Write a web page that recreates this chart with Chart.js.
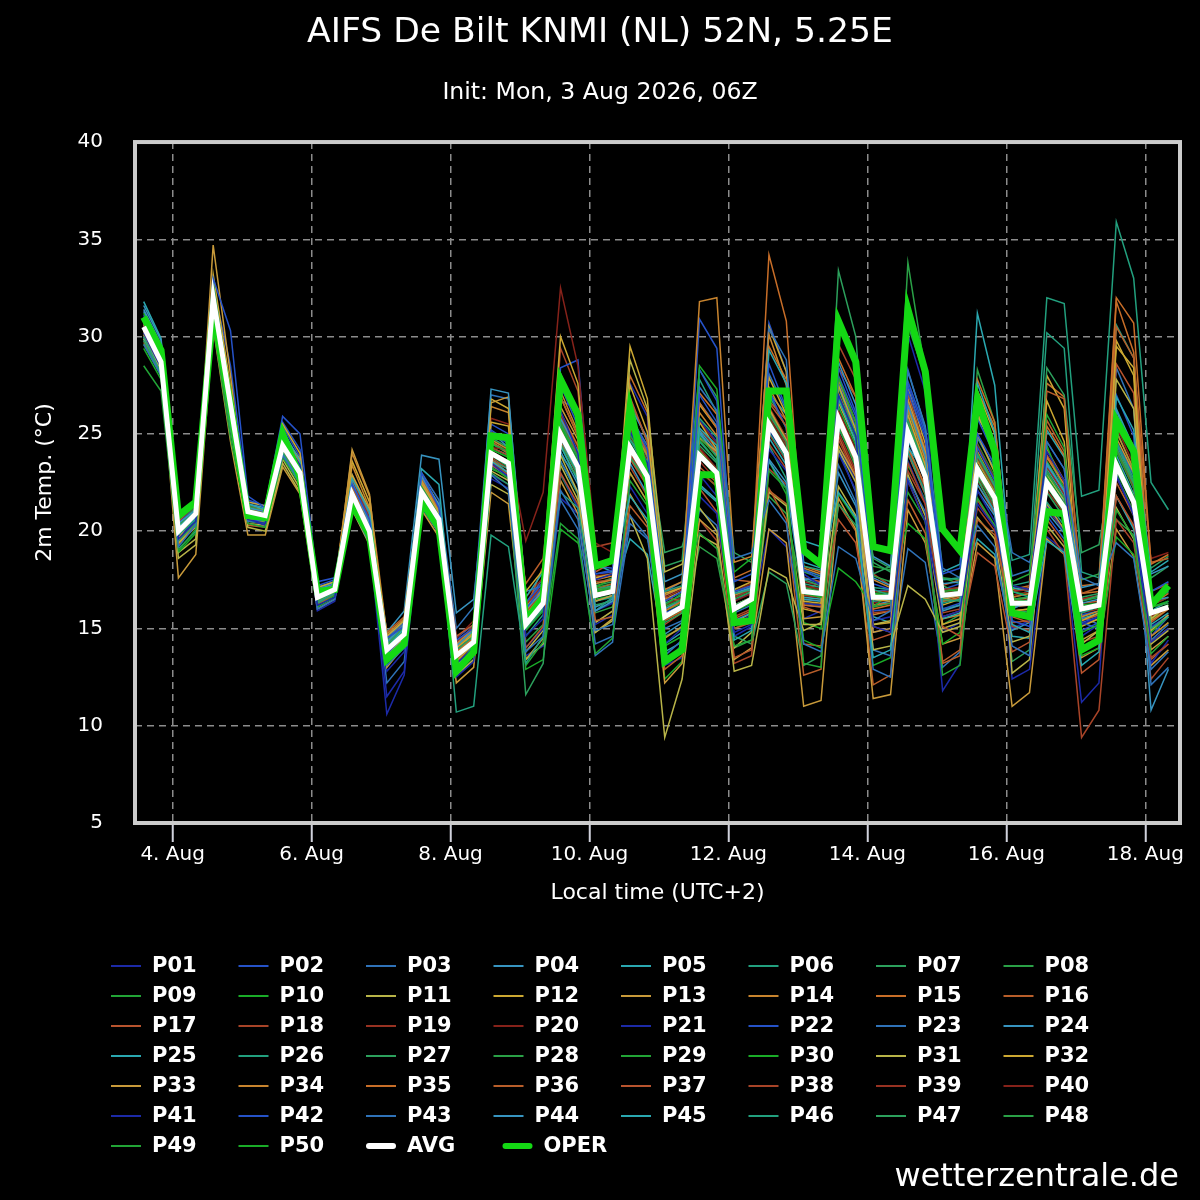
<!DOCTYPE html>
<html>
<head>
<meta charset="utf-8">
<title>AIFS De Bilt KNMI (NL) 52N, 5.25E</title>
<script src="https://cdn.jsdelivr.net/npm/chart.js@4.4.1/dist/chart.umd.min.js"></script>
<style>
  html, body { margin: 0; padding: 0; background: #000; }
  #wrap { width: 1200px; height: 1200px; }
</style>
</head>
<body>
<div id="wrap"><canvas id="myChart" width="1200" height="1200"></canvas></div>
<script>
// time of each step, hours after 4 Aug 00:00 local (UTC+2), 6-hourly
const hours = [-10, -4,
  2, 8, 14, 20, 26, 32, 38, 44, 50, 56, 62, 68, 74, 80, 86, 92, 98, 104,
  110, 116, 122, 128, 134, 140, 146, 152, 158, 164, 170, 176, 182, 188, 194, 200,
  206, 212, 218, 224, 230, 236, 242, 248, 254, 260, 266, 272, 278, 284, 290, 296,
  302, 308, 314, 320, 326, 332, 338, 344];

// x axis ticks
const tickHours = [0, 48, 96, 144, 192, 240, 288, 336];
const tickLabels = ["4. Aug", "6. Aug", "8. Aug", "10. Aug", "12. Aug", "14. Aug", "16. Aug", "18. Aug"];

//Ensemble mean and operational run
const AVG = [30.5, 28.7,
  20.0, 20.9, 32.0, 26.5, 21.0, 20.8, 24.4, 23.0, 16.6, 17.0, 21.9, 20.0,
  13.9, 14.7, 22.0, 20.6, 13.6, 14.3, 24.0, 23.5, 15.2, 16.3, 25.0, 23.3,
  16.7, 16.9, 24.3, 22.8, 15.6, 16.1, 23.9, 23.0, 16.0, 16.5, 25.5, 24.0,
  16.9, 16.8, 25.8, 23.8, 16.6, 16.6, 25.1, 22.8, 16.7, 16.8, 23.2, 21.7,
  16.3, 16.3, 22.5, 21.2, 16.0, 16.2, 23.4, 21.5, 15.8, 16.1];
const OPER = [31.0, 29.3,
  20.8, 21.5, 31.3, 26.5, 20.8, 20.7, 25.0, 22.8, 16.9, 17.0, 21.4, 19.8,
  13.4, 14.2, 21.5, 20.2, 12.8, 13.8, 24.9, 24.8, 15.4, 16.6, 27.8, 26.0,
  18.2, 18.5, 26.3, 22.5, 13.3, 13.9, 22.9, 22.9, 15.3, 15.4, 27.2, 27.2,
  19.0, 18.3, 30.8, 28.7, 19.2, 19.0, 31.4, 28.2, 20.1, 19.0, 26.8, 24.1,
  15.8, 15.6, 21.0, 20.9, 13.9, 14.4, 25.7, 24.1, 16.2, 17.2];

//Members, one row per day (02, 08, 14, 20 local)
const P01 = [30.2, 28.4,
  19.6, 20.5, 31.8, 26.8,
  20.6, 20.4, 24.8, 23.4,
  16.2, 16.6, 21.6, 19.8,
  11.5, 12.8, 21.5, 20.2,
  13.2, 14.0, 23.5, 22.8,
  14.6, 15.5, 26.2, 24.0,
  17.5, 17.8, 25.1, 23.5,
  14.2, 15.0, 21.8, 20.9,
  14.8, 15.2, 24.2, 23.1,
  17.8, 17.2, 27.0, 24.9,
  15.1, 14.8, 22.6, 20.5,
  15.6, 15.9, 21.4, 20.2,
  17.2, 17.0, 24.1, 22.6,
  15.2, 15.6, 22.8, 20.9,
  14.3, 15.0];
const P02 = [31.0, 29.5,
  20.8, 21.6, 33.0, 30.3,
  21.8, 21.2, 25.9, 25.0,
  17.4, 17.6, 22.4, 20.6,
  14.5, 15.1, 23.0, 21.2,
  14.4, 15.0, 25.2, 24.6,
  16.0, 17.2, 27.5, 25.4,
  17.8, 18.0, 26.0, 24.2,
  16.4, 16.9, 27.0, 25.6,
  17.4, 17.8, 28.6, 26.3,
  18.0, 17.5, 28.4, 26.1,
  17.3, 17.0, 27.2, 24.8,
  17.8, 18.1, 25.0, 23.4,
  15.4, 15.1, 20.8, 19.6,
  14.9, 15.3, 25.6, 23.8,
  16.9, 17.4];
const P03 = [29.6, 28.0,
  19.2, 20.3, 31.4, 25.6,
  20.5, 20.6, 23.9, 22.6,
  16.0, 16.5, 21.2, 19.4,
  13.1, 14.0, 21.3, 19.9,
  12.8, 13.6, 22.9, 22.1,
  13.8, 14.6, 22.1, 20.6,
  14.9, 15.2, 20.8, 19.7,
  13.6, 14.4, 27.4, 26.2,
  18.6, 18.9, 21.6, 20.4,
  14.2, 13.8, 19.2, 18.6,
  15.4, 15.9, 28.3, 25.3,
  18.1, 17.6, 20.3, 19.2,
  14.1, 13.6, 24.6, 23.2,
  17.6, 17.2, 19.4, 18.6,
  12.9, 13.8];
const P04 = [31.6, 29.8,
  20.4, 21.1, 32.3, 27.0,
  21.2, 21.0, 24.7, 23.3,
  17.0, 17.3, 22.5, 20.4,
  14.3, 15.2, 22.8, 21.3,
  14.1, 14.9, 27.3, 27.1,
  16.0, 16.9, 25.8, 24.1,
  15.9, 16.4, 23.5, 21.9,
  14.7, 15.3, 22.4, 21.6,
  15.4, 15.8, 23.7, 22.5,
  17.5, 17.6, 28.7, 26.5,
  17.6, 17.2, 26.5, 23.9,
  15.9, 16.2, 22.4, 21.0,
  16.0, 16.4, 23.4, 22.1,
  17.1, 17.3, 26.2, 24.0,
  16.4, 16.6];
const P05 = [31.8, 29.9,
  20.2, 21.0, 32.5, 26.3,
  21.4, 21.1, 25.2, 23.6,
  16.9, 17.2, 22.7, 21.0,
  14.0, 15.0, 23.2, 22.4,
  13.0, 14.1, 23.6, 23.0,
  16.6, 17.9, 28.1, 25.7,
  18.3, 17.9, 21.8, 20.6,
  14.2, 14.8, 25.3, 24.4,
  14.4, 14.9, 29.3, 27.6,
  18.4, 18.1, 22.0, 20.7,
  13.5, 13.9, 24.3, 23.1,
  17.9, 18.3, 27.6, 25.1,
  15.2, 14.8, 19.5, 18.9,
  13.1, 13.8, 26.9, 25.2,
  17.9, 18.5];
const P06 = [30.0, 28.1,
  19.8, 20.6, 31.6, 25.8,
  20.9, 20.7, 24.0, 22.4,
  16.3, 16.8, 21.4, 19.6,
  13.6, 14.4, 21.7, 20.3,
  10.7, 11.0, 19.8, 19.2,
  13.2, 14.6, 22.0, 21.2,
  15.9, 16.6, 24.7, 23.6,
  16.9, 17.2, 25.8, 24.8,
  16.8, 17.0, 24.4, 22.7,
  18.2, 18.0, 26.9, 25.0,
  17.0, 16.7, 24.1, 22.0,
  16.3, 16.5, 23.9, 22.3,
  16.9, 16.6, 21.5, 20.3,
  15.8, 16.1, 24.6, 22.7,
  15.0, 15.6];
const P07 = [29.8, 28.0,
  19.5, 20.4, 31.3, 25.2,
  20.7, 20.5, 24.1, 22.6,
  16.4, 16.9, 22.1, 20.2,
  14.2, 15.0, 21.8, 20.5,
  13.9, 14.6, 23.9, 23.3,
  15.0, 16.0, 24.5, 22.9,
  16.2, 16.4, 23.8, 22.6,
  15.3, 15.8, 24.4, 23.5,
  16.2, 16.6, 26.0, 24.6,
  17.5, 17.2, 33.4, 30.0,
  18.4, 17.9, 25.7, 23.1,
  16.5, 16.4, 22.7, 21.0,
  16.1, 16.5, 22.0, 20.7,
  16.4, 16.7, 24.3, 22.4,
  16.3, 16.9];
const P08 = [30.7, 29.0,
  20.3, 21.2, 32.8, 26.9,
  21.3, 21.0, 24.6, 23.1,
  16.8, 17.1, 21.8, 19.9,
  14.4, 15.1, 22.3, 20.8,
  13.7, 14.4, 24.5, 24.1,
  15.6, 16.6, 25.6, 23.8,
  17.0, 17.1, 25.0, 23.5,
  16.1, 16.5, 24.9, 23.8,
  16.5, 16.9, 25.7, 24.2,
  17.1, 16.9, 25.4, 23.3,
  16.1, 16.3, 25.0, 22.6,
  16.8, 16.9, 22.9, 21.4,
  16.5, 16.6, 23.0, 21.7,
  16.1, 16.3, 23.1, 21.3,
  15.9, 16.2];
const P09 = [28.5, 27.2,
  19.0, 20.1, 30.6, 24.8,
  20.4, 20.2, 23.8, 22.4,
  16.1, 16.6, 21.3, 19.5,
  13.4, 14.3, 21.4, 20.0,
  12.9, 13.7, 23.2, 22.8,
  13.1, 14.3, 20.4, 19.6,
  13.7, 14.5, 22.6, 21.3,
  16.2, 16.8, 19.9, 19.1,
  14.1, 14.4, 23.1, 22.2,
  13.2, 13.0, 27.9, 25.6,
  18.2, 18.0, 22.0, 20.5,
  12.6, 13.1, 21.7, 20.3,
  17.4, 17.8, 26.0, 24.3,
  14.8, 15.2, 21.1, 19.7,
  13.7, 14.6];
const P10 = [31.2, 29.3,
  20.6, 21.3, 32.1, 26.1,
  21.1, 20.9, 24.3, 22.9,
  16.7, 17.1, 22.0, 20.1,
  14.1, 14.9, 22.1, 20.7,
  13.5, 14.2, 24.2, 23.8,
  15.4, 16.4, 25.4, 23.5,
  16.9, 17.0, 24.2, 22.8,
  15.5, 16.0, 24.1, 23.1,
  15.9, 16.3, 25.3, 24.0,
  16.8, 16.6, 25.9, 24.0,
  16.8, 16.7, 25.4, 23.0,
  16.9, 17.0, 23.4, 21.9,
  16.5, 16.4, 22.8, 21.4,
  16.2, 16.3, 23.7, 21.8,
  16.1, 16.4];
const P11 = [29.9, 28.3,
  18.6, 19.3, 31.0, 25.4,
  20.2, 20.0, 23.5, 22.0,
  16.5, 16.9, 21.5, 19.7,
  13.6, 14.5, 21.9, 20.4,
  13.1, 13.9, 23.1, 22.6,
  13.4, 14.2, 23.9, 22.0,
  14.8, 15.4, 28.8, 26.3,
  17.9, 18.3, 21.2, 20.0,
  12.8, 13.1, 18.1, 17.6,
  14.9, 15.3, 24.2, 22.5,
  13.9, 14.1, 17.2, 16.5,
  14.8, 15.1, 25.9, 24.4,
  12.7, 13.4, 22.9, 21.6,
  14.2, 14.9, 27.8, 26.3,
  15.5, 16.2];
const P12 = [30.4, 28.8,
  19.4, 20.2, 33.2, 27.4,
  21.5, 21.3, 25.5, 24.0,
  17.1, 17.4, 22.9, 21.1,
  14.6, 15.4, 22.4, 20.9,
  14.0, 14.7, 26.8, 26.3,
  16.9, 18.0, 30.0, 27.6,
  17.6, 17.8, 27.5, 25.1,
  16.8, 17.1, 25.6, 24.2,
  16.2, 16.6, 27.9, 26.0,
  16.4, 16.3, 27.5, 25.2,
  16.5, 16.4, 26.0, 23.4,
  15.2, 15.5, 25.0, 23.0,
  15.9, 16.0, 26.7, 24.6,
  15.4, 15.8, 29.5, 28.4,
  14.9, 15.7];
const P13 = [30.9, 29.4,
  19.6, 21.0, 34.7, 28.0,
  20.6, 20.5, 25.0, 23.7,
  16.4, 16.9, 24.2, 21.9,
  13.8, 14.8, 22.6, 21.0,
  13.3, 14.2, 26.6, 26.9,
  15.1, 16.2, 26.4, 24.7,
  16.4, 16.7, 23.0, 21.5,
  14.5, 15.1, 24.8, 24.1,
  15.3, 15.8, 26.3, 24.7,
  15.5, 15.6, 24.4, 22.8,
  14.8, 15.0, 26.8, 24.1,
  16.5, 16.7, 26.1, 24.0,
  15.8, 15.6, 21.4, 20.1,
  14.4, 14.9, 24.8, 23.0,
  13.9, 14.6];
const P14 = [30.1, 28.5,
  19.9, 20.8, 32.4, 26.7,
  21.2, 21.1, 24.9, 23.5,
  16.9, 17.2, 24.0, 21.8,
  14.7, 15.5, 22.5, 20.9,
  14.2, 15.0, 24.7, 24.2,
  15.7, 16.8, 27.2, 25.1,
  17.3, 17.5, 25.4, 23.9,
  17.0, 17.4, 31.8, 32.0,
  18.4, 18.7, 30.1, 27.5,
  18.1, 17.8, 27.8, 25.6,
  17.5, 17.1, 26.3, 23.7,
  16.7, 16.9, 23.6, 22.0,
  16.1, 16.2, 23.8, 22.4,
  15.6, 15.9, 25.1, 23.2,
  15.4, 16.0];
const P15 = [30.3, 28.6,
  20.1, 20.9, 31.9, 26.2,
  20.8, 20.6, 24.5, 23.0,
  16.6, 17.0, 21.7, 19.9,
  13.9, 14.7, 21.6, 20.3,
  13.8, 14.5, 24.1, 23.6,
  15.3, 16.3, 25.2, 23.2,
  16.8, 17.0, 24.4, 22.7,
  15.9, 16.4, 26.6, 25.3,
  16.0, 16.4, 29.5, 27.8,
  16.2, 16.1, 25.5, 23.5,
  16.0, 16.2, 24.3, 22.3,
  16.4, 16.5, 27.8, 25.6,
  16.6, 16.8, 25.4, 23.9,
  17.2, 17.3, 32.0, 30.7,
  18.3, 18.8];
const P16 = [29.7, 28.2,
  19.3, 20.3, 31.5, 25.9,
  20.3, 20.2, 24.2, 22.8,
  16.2, 16.8, 22.3, 20.4,
  14.8, 15.6, 22.7, 21.1,
  14.6, 15.2, 23.7, 23.0,
  17.3, 18.6, 26.9, 24.9,
  15.4, 15.6, 21.3, 20.2,
  12.9, 13.6, 24.8, 24.0,
  17.5, 17.4, 22.2, 20.6,
  12.6, 12.9, 28.4, 26.9,
  15.1, 14.8, 21.6, 19.9,
  13.2, 13.6, 20.6, 19.8,
  15.6, 15.3, 27.2, 26.8,
  16.8, 17.1, 30.5, 28.9,
  18.4, 18.6];
const P17 = [30.6, 28.9,
  20.5, 21.4, 31.7, 26.4,
  21.0, 20.9, 24.1, 22.7,
  16.5, 17.0, 22.2, 20.3,
  14.0, 14.8, 21.8, 20.6,
  13.4, 14.2, 23.4, 22.9,
  14.0, 15.1, 23.0, 21.4,
  17.9, 18.4, 26.9, 24.6,
  16.6, 16.4, 22.2, 21.0,
  13.5, 13.9, 26.6, 25.4,
  16.1, 15.8, 20.6, 19.4,
  14.4, 14.7, 27.1, 24.2,
  15.1, 14.6, 18.9, 18.2,
  13.8, 14.3, 20.6, 19.4,
  12.7, 13.4, 21.8, 20.3,
  16.9, 17.3];
const P18 = [30.5, 28.7,
  20.9, 21.6, 32.2, 26.6,
  21.1, 21.0, 24.6, 23.2,
  16.8, 17.2, 21.9, 20.1,
  14.1, 14.9, 22.2, 20.8,
  14.0, 14.7, 24.3, 23.9,
  15.8, 16.9, 25.8, 23.9,
  17.4, 17.5, 24.0, 22.4,
  15.6, 16.1, 23.1, 22.3,
  15.6, 16.0, 24.5, 23.2,
  16.7, 16.6, 24.7, 22.8,
  15.8, 15.9, 23.5, 21.4,
  15.8, 16.0, 21.6, 20.2,
  15.1, 14.9, 20.1, 18.8,
  9.4, 10.8, 20.6, 19.4,
  13.5, 14.2];
const P19 = [30.8, 29.1,
  20.7, 21.5, 32.6, 26.8,
  21.3, 21.1, 24.8, 23.3,
  16.9, 17.3, 22.6, 20.7,
  14.4, 15.2, 22.6, 21.1,
  14.3, 15.1, 25.1, 24.8,
  16.2, 17.2, 25.9, 24.0,
  17.7, 17.8, 25.3, 23.6,
  16.6, 17.0, 25.3, 24.2,
  16.6, 17.0, 26.4, 24.8,
  17.4, 17.2, 26.1, 24.1,
  16.9, 16.9, 25.9, 23.5,
  17.0, 17.1, 23.8, 22.2,
  16.9, 17.0, 23.3, 21.9,
  16.5, 16.7, 24.3, 22.3,
  16.2, 16.6];
const P20 = [30.2, 28.6,
  20.0, 21.0, 32.3, 26.5,
  21.0, 20.8, 24.2, 22.9,
  16.6, 17.0, 21.8, 20.0,
  13.9, 14.8, 22.0, 20.6,
  13.6, 14.4, 24.3, 24.2,
  19.5, 22.0, 32.5, 28.5,
  19.4, 18.9, 25.6, 23.6,
  16.9, 17.1, 24.3, 23.2,
  16.4, 16.8, 25.9, 24.3,
  17.2, 17.0, 25.6, 23.7,
  16.5, 16.6, 24.2, 22.2,
  16.9, 17.0, 22.8, 21.4,
  16.4, 16.5, 22.6, 21.2,
  16.0, 16.1, 23.3, 21.4,
  15.6, 16.0];
const P21 = [30.0, 28.2,
  19.7, 20.6, 31.5, 25.8,
  20.6, 20.3, 23.9, 22.5,
  15.9, 16.4, 21.4, 19.5,
  10.6, 12.6, 21.2, 20.0,
  12.5, 13.3, 22.7, 22.2,
  14.0, 15.0, 23.0, 21.2,
  15.2, 15.7, 22.3, 20.9,
  13.1, 14.2, 22.9, 21.8,
  14.6, 15.1, 25.2, 23.9,
  16.3, 16.2, 24.0, 22.1,
  15.4, 15.6, 23.6, 21.5,
  11.8, 13.2, 22.1, 20.5,
  15.0, 15.4, 21.3, 20.0,
  14.6, 15.2, 22.9, 20.8,
  13.2, 14.4];
const P22 = [31.1, 29.2,
  20.4, 21.2, 32.9, 27.2,
  21.6, 21.3, 25.4, 23.8,
  17.2, 17.5, 22.3, 20.4,
  13.7, 14.6, 22.4, 21.0,
  14.2, 15.0, 25.0, 24.5,
  16.3, 17.4, 28.4, 28.8,
  18.2, 18.1, 25.2, 23.2,
  15.8, 16.2, 30.9, 29.4,
  16.9, 17.2, 27.2, 25.3,
  16.2, 16.1, 28.0, 25.9,
  15.9, 16.0, 27.5, 25.0,
  16.0, 16.3, 24.3, 22.6,
  15.7, 15.8, 23.0, 21.5,
  15.3, 15.6, 24.6, 22.9,
  15.0, 15.7];
const P23 = [30.6, 28.9,
  20.1, 21.0, 31.8, 26.2,
  21.1, 20.9, 24.3, 22.9,
  16.7, 17.1, 22.1, 20.2,
  14.5, 15.3, 23.0, 21.6,
  15.0, 16.1, 27.0, 26.8,
  16.9, 17.2, 21.6, 20.1,
  13.6, 14.3, 25.9, 24.4,
  15.0, 15.4, 21.1, 20.3,
  15.8, 16.2, 30.4, 28.8,
  17.6, 17.3, 23.4, 21.5,
  12.9, 12.5, 22.7, 21.0,
  16.4, 16.9, 26.8, 24.2,
  18.9, 18.4, 21.3, 20.1,
  15.3, 15.0, 24.4, 22.9,
  12.1, 13.0];
const P24 = [31.4, 29.6,
  20.3, 21.2, 32.1, 26.6,
  21.4, 21.2, 24.9, 23.5,
  17.1, 17.4, 22.6, 20.8,
  14.8, 15.9, 23.9, 23.7,
  15.8, 16.5, 25.1, 24.3,
  15.5, 16.4, 24.1, 22.4,
  16.1, 16.5, 26.4, 24.8,
  17.4, 17.8, 25.1, 23.9,
  16.8, 17.1, 23.6, 22.2,
  16.5, 16.4, 23.0, 21.3,
  18.7, 18.2, 28.2, 25.4,
  17.3, 17.4, 22.1, 20.8,
  14.9, 15.3, 21.0, 19.9,
  16.3, 16.5, 23.9, 21.9,
  17.8, 18.2];
const P25 = [30.8, 29.0,
  19.8, 20.7, 31.9, 26.2,
  20.8, 20.6, 24.6, 23.1,
  16.5, 16.9, 21.7, 19.8,
  14.2, 15.0, 22.2, 20.7,
  13.9, 14.6, 24.3, 23.9,
  15.1, 16.1, 24.8, 22.9,
  16.6, 16.9, 24.3, 22.6,
  15.7, 16.2, 25.2, 24.1,
  16.1, 16.5, 24.8, 23.4,
  16.6, 16.5, 26.8, 24.6,
  16.4, 16.5, 24.4, 22.2,
  15.5, 15.8, 31.2, 27.5,
  17.1, 16.9, 23.5, 22.0,
  15.6, 15.9, 21.8, 20.1,
  15.2, 15.8];
const P26 = [29.9, 28.3,
  19.1, 20.0, 31.2, 25.5,
  20.5, 20.4, 24.0, 22.6,
  16.4, 16.8, 21.6, 19.7,
  14.0, 14.8, 22.1, 20.6,
  13.6, 14.3, 23.6, 23.2,
  15.4, 16.4, 25.0, 23.1,
  17.0, 17.2, 24.7, 23.1,
  16.3, 16.7, 24.6, 23.6,
  16.6, 17.0, 25.1, 23.7,
  17.3, 17.1, 25.3, 23.5,
  17.1, 17.0, 25.8, 23.3,
  17.5, 17.6, 26.0, 24.1,
  18.5, 18.8, 32.0, 31.7,
  21.8, 22.1, 35.9, 33.0,
  22.5, 21.1];
const P27 = [30.3, 28.5,
  19.7, 20.5, 31.6, 25.9,
  20.9, 20.7, 24.5, 23.0,
  16.7, 17.1, 22.4, 20.5,
  14.3, 15.1, 21.5, 20.1,
  13.2, 14.0, 23.0, 22.4,
  11.6, 13.2, 23.9, 22.8,
  17.3, 17.6, 26.8, 24.6,
  18.9, 19.2, 22.4, 21.6,
  14.6, 14.2, 17.9, 17.3,
  13.1, 13.6, 21.4, 20.3,
  17.8, 18.2, 30.6, 27.9,
  17.2, 16.8, 22.9, 21.3,
  13.3, 13.9, 28.4, 27.0,
  18.9, 19.3, 24.6, 22.5,
  18.1, 18.7];
const P28 = [30.1, 28.4,
  20.2, 21.1, 32.0, 26.0,
  21.2, 20.9, 24.4, 22.9,
  16.6, 16.9, 21.9, 20.0,
  13.8, 14.6, 21.9, 20.5,
  13.5, 14.3, 24.0, 23.4,
  15.2, 16.3, 25.1, 23.3,
  16.6, 16.9, 24.1, 22.7,
  15.6, 16.0, 23.8, 22.8,
  16.1, 16.5, 25.5, 24.1,
  17.0, 16.9, 27.0, 24.8,
  17.7, 17.4, 33.8, 28.2,
  17.6, 17.5, 24.0, 22.4,
  16.4, 16.5, 22.3, 21.0,
  15.8, 16.2, 23.6, 21.6,
  16.1, 16.3];
const P29 = [30.9, 29.1,
  20.6, 21.5, 32.5, 26.7,
  21.3, 21.1, 24.7, 23.3,
  16.9, 17.3, 22.2, 20.3,
  14.1, 14.9, 22.3, 20.9,
  13.7, 14.5, 24.7, 24.2,
  15.6, 16.6, 25.5, 23.7,
  16.9, 17.1, 24.5, 23.0,
  15.9, 16.3, 24.7, 23.6,
  15.9, 16.3, 26.3, 24.8,
  16.9, 16.8, 26.4, 24.4,
  16.7, 16.8, 25.6, 23.3,
  16.6, 16.8, 23.7, 22.1,
  16.2, 16.4, 23.1, 21.6,
  16.0, 16.2, 24.2, 22.2,
  15.8, 16.2];
const P30 = [29.4, 27.8,
  18.9, 19.9, 31.0, 25.3,
  20.7, 20.6, 24.2, 22.8,
  16.2, 16.7, 21.5, 19.6,
  13.5, 14.4, 21.7, 20.2,
  12.8, 13.6, 23.3, 22.7,
  12.9, 13.4, 20.1, 19.4,
  17.1, 17.6, 23.0, 21.5,
  14.1, 14.6, 28.5, 27.3,
  17.9, 18.6, 23.6, 21.9,
  14.4, 14.0, 18.1, 17.4,
  16.1, 16.8, 20.4, 19.6,
  14.2, 14.8, 22.6, 21.8,
  16.9, 16.7, 24.4, 22.1,
  13.6, 14.0, 19.7, 18.8,
  14.8, 15.6];
const P31 = [30.0, 28.3,
  18.9, 19.6, 31.3, 25.6,
  20.4, 20.3, 23.7, 22.2,
  16.3, 16.8, 21.1, 19.3,
  13.3, 14.3, 21.3, 19.9,
  12.6, 13.4, 22.4, 21.9,
  13.8, 14.9, 23.4, 21.6,
  15.3, 15.9, 20.8, 18.6,
  9.4, 12.4, 19.8, 19.3,
  14.0, 14.8, 22.0, 21.3,
  15.2, 15.2, 22.3, 20.8,
  15.2, 15.4, 22.9, 20.8,
  15.0, 15.3, 20.7, 19.6,
  14.3, 14.6, 20.3, 19.2,
  14.0, 14.5, 21.2, 19.6,
  14.2, 14.9];
const P32 = [30.7, 29.0,
  19.3, 20.5, 32.6, 27.0,
  20.8, 20.7, 25.0, 23.6,
  16.8, 17.2, 23.6, 21.5,
  14.5, 15.3, 22.9, 21.3,
  14.0, 14.8, 25.6, 25.4,
  16.1, 17.1, 28.0, 25.6,
  16.9, 17.2, 29.5, 26.8,
  16.5, 16.9, 26.5, 25.3,
  17.0, 17.4, 30.5, 28.2,
  16.0, 15.8, 26.6, 24.6,
  15.2, 15.3, 27.4, 24.5,
  16.2, 16.5, 27.2, 25.0,
  16.4, 16.6, 28.0, 26.3,
  15.1, 15.5, 29.8, 28.0,
  14.3, 15.0];
const P33 = [30.2, 28.5,
  17.6, 18.8, 30.5, 24.6,
  19.8, 19.8, 23.3, 21.9,
  16.0, 16.5, 21.3, 19.4,
  13.0, 14.1, 21.1, 19.7,
  12.2, 13.0, 22.0, 21.4,
  13.4, 14.5, 22.6, 20.9,
  14.8, 15.5, 21.9, 20.4,
  12.2, 13.2, 20.6, 19.8,
  13.4, 14.0, 20.1, 19.4,
  11.0, 11.3, 21.7, 20.1,
  11.4, 11.6, 21.1, 19.4,
  14.2, 14.5, 19.4, 18.6,
  11.0, 11.7, 19.6, 18.8,
  13.5, 14.0, 20.1, 18.7,
  13.1, 13.9];
const P34 = [30.5, 28.8,
  20.0, 21.0, 32.2, 26.4,
  21.1, 20.9, 24.9, 23.4,
  16.7, 17.0, 23.4, 21.2,
  14.2, 15.0, 22.6, 21.1,
  14.1, 14.9, 26.4, 26.1,
  15.9, 17.0, 26.9, 24.9,
  17.5, 17.7, 26.7, 24.6,
  16.7, 17.1, 26.1, 24.9,
  16.7, 17.1, 27.4, 25.7,
  16.3, 16.2, 27.1, 24.9,
  15.7, 15.9, 25.2, 22.9,
  15.5, 15.7, 24.1, 22.4,
  15.9, 16.0, 24.2, 22.6,
  15.2, 15.5, 25.5, 23.9,
  14.6, 15.3];
const P35 = [30.4, 28.7,
  19.9, 20.8, 31.9, 26.4,
  20.9, 20.8, 24.7, 23.3,
  16.7, 17.0, 22.7, 20.6,
  14.0, 14.9, 22.1, 20.7,
  13.8, 14.6, 24.9, 24.6,
  15.9, 17.0, 26.1, 24.4,
  17.6, 17.8, 28.0, 26.1,
  16.4, 16.9, 27.1, 26.0,
  17.6, 18.0, 34.2, 30.8,
  18.2, 17.9, 28.9, 26.9,
  16.2, 16.3, 26.6, 24.0,
  16.4, 16.6, 27.2, 25.4,
  17.0, 17.2, 27.6, 26.9,
  16.8, 16.9, 31.8, 29.2,
  16.2, 16.8];
const P36 = [30.0, 28.4,
  19.5, 20.4, 31.4, 25.8,
  20.5, 20.4, 24.3, 22.9,
  16.4, 16.8, 22.8, 20.9,
  14.3, 15.1, 22.4, 20.9,
  13.7, 14.5, 24.6, 24.1,
  16.0, 18.2, 24.6, 23.0,
  17.0, 17.3, 26.0, 24.0,
  15.4, 15.9, 23.3, 22.5,
  15.0, 15.3, 22.1, 21.4,
  14.2, 14.1, 21.4, 20.0,
  12.1, 12.6, 22.6, 20.5,
  13.3, 13.9, 22.4, 20.9,
  15.7, 15.8, 25.7, 24.1,
  15.4, 15.7, 22.5, 20.8,
  13.4, 14.2];
const P37 = [30.6, 28.9,
  20.2, 21.1, 32.0, 26.4,
  21.0, 20.8, 24.4, 22.9,
  16.6, 17.0, 22.0, 20.1,
  14.1, 14.9, 22.5, 21.1,
  14.2, 15.0, 24.6, 24.0,
  15.7, 16.7, 25.3, 23.4,
  16.6, 16.9, 23.7, 22.3,
  15.4, 15.9, 24.2, 23.1,
  15.5, 15.9, 26.7, 25.7,
  17.6, 17.4, 24.9, 22.9,
  16.2, 16.3, 24.0, 21.9,
  17.2, 17.5, 26.4, 24.4,
  16.9, 17.1, 23.9, 22.6,
  16.3, 16.4, 28.6, 27.1,
  15.3, 16.0];
const P38 = [31.0, 29.2,
  20.6, 21.4, 32.3, 26.6,
  21.2, 21.0, 24.5, 23.0,
  16.8, 17.2, 22.1, 20.2,
  13.9, 14.7, 21.9, 20.5,
  13.6, 14.3, 23.8, 23.2,
  16.1, 17.4, 29.4, 27.2,
  19.2, 19.4, 23.3, 21.8,
  15.2, 15.8, 20.6, 19.5,
  13.2, 13.6, 23.2, 22.4,
  16.9, 17.4, 29.6, 27.8,
  17.8, 17.2, 23.1, 21.4,
  15.6, 15.9, 21.2, 20.0,
  15.3, 15.4, 21.2, 20.0,
  14.3, 14.6, 21.8, 20.2,
  12.4, 13.5];
const P39 = [30.3, 28.6,
  20.3, 21.1, 32.0, 26.3,
  21.0, 20.8, 24.1, 22.7,
  16.6, 17.0, 21.7, 19.8,
  13.7, 14.5, 21.6, 20.3,
  13.3, 14.0, 23.5, 23.0,
  15.2, 16.2, 24.6, 22.8,
  16.8, 17.0, 24.0, 22.5,
  15.7, 16.1, 23.6, 22.6,
  16.2, 16.6, 25.0, 23.6,
  17.1, 16.9, 25.1, 23.1,
  16.6, 16.7, 24.4, 22.3,
  16.6, 16.8, 22.6, 21.2,
  16.2, 16.4, 22.1, 20.9,
  15.8, 16.0, 22.8, 20.9,
  15.6, 16.0];
const P40 = [30.7, 29.0,
  20.4, 21.3, 32.4, 26.7,
  21.2, 21.0, 24.8, 23.4,
  16.8, 17.2, 22.3, 20.4,
  14.2, 15.0, 22.4, 21.0,
  14.5, 15.4, 25.8, 25.5,
  16.6, 17.6, 26.0, 24.3,
  16.8, 17.1, 24.8, 23.3,
  16.2, 16.6, 25.6, 24.5,
  16.9, 17.3, 26.0, 24.5,
  16.6, 16.5, 26.2, 24.2,
  16.3, 16.5, 25.3, 23.1,
  16.8, 17.0, 24.4, 22.7,
  16.7, 16.9, 23.8, 22.4,
  16.5, 16.7, 25.4, 23.4,
  18.6, 18.9];
const P41 = [30.3, 28.6,
  20.1, 21.0, 31.9, 26.3,
  20.8, 20.6, 24.3, 22.9,
  16.5, 16.9, 21.9, 20.0,
  12.8, 13.8, 21.4, 20.1,
  12.6, 13.4, 22.9, 22.4,
  13.6, 14.1, 21.7, 20.9,
  15.9, 16.3, 27.6, 25.9,
  13.1, 13.5, 25.7, 24.6,
  15.2, 15.7, 20.1, 19.2,
  15.5, 15.9, 24.4, 22.6,
  14.8, 15.0, 30.1, 27.2,
  14.8, 15.3, 24.4, 22.7,
  12.4, 12.9, 19.7, 19.0,
  11.2, 12.2, 25.6, 24.1,
  15.1, 15.6];
const P42 = [30.9, 29.1,
  20.5, 21.3, 32.6, 28.5,
  21.5, 21.3, 25.6, 24.2,
  17.0, 17.4, 22.9, 21.0,
  14.6, 15.4, 22.7, 21.2,
  14.5, 15.2, 25.5, 25.0,
  15.8, 16.8, 26.7, 26.3,
  17.8, 17.9, 25.8, 23.9,
  16.7, 17.1, 28.3, 26.7,
  16.4, 16.9, 30.7, 28.2,
  16.8, 16.6, 27.6, 25.3,
  16.9, 17.0, 27.7, 25.2,
  17.0, 17.3, 25.8, 23.9,
  16.1, 16.2, 24.6, 23.2,
  15.7, 15.9, 27.0, 24.9,
  14.6, 15.6];
const P43 = [29.8, 28.1,
  19.4, 20.4, 31.6, 25.7,
  20.6, 20.4, 24.0, 22.6,
  16.2, 16.7, 21.5, 19.6,
  12.2, 13.3, 21.2, 19.9,
  13.0, 13.8, 23.4, 22.8,
  16.3, 17.6, 23.6, 22.0,
  14.2, 14.6, 20.4, 19.6,
  16.9, 17.4, 26.6, 25.4,
  16.8, 17.1, 28.1, 26.2,
  18.0, 17.7, 24.2, 22.0,
  13.9, 13.6, 19.1, 18.4,
  13.0, 13.8, 24.9, 23.1,
  17.7, 18.0, 23.9, 22.2,
  15.6, 15.2, 28.4, 26.3,
  14.4, 15.2];
const P44 = [31.3, 29.5,
  20.2, 21.1, 32.2, 26.7,
  21.3, 21.1, 24.6, 23.2,
  16.9, 17.2, 22.3, 20.4,
  14.4, 15.2, 22.8, 21.4,
  14.3, 15.1, 24.6, 24.0,
  15.9, 16.9, 25.4, 23.5,
  16.7, 17.0, 25.5, 24.0,
  16.0, 16.5, 25.0, 23.9,
  16.2, 16.6, 25.6, 24.1,
  16.9, 16.8, 25.8, 23.8,
  16.2, 16.4, 24.7, 22.6,
  16.5, 16.7, 23.4, 21.9,
  16.4, 16.5, 23.2, 21.8,
  16.1, 16.3, 24.5, 22.5,
  10.8, 12.9];
const P45 = [30.6, 28.9,
  19.9, 20.9, 31.8, 26.1,
  21.0, 20.8, 24.5, 23.0,
  16.6, 17.0, 21.6, 19.8,
  14.0, 14.8, 21.9, 20.5,
  13.4, 14.2, 23.9, 23.5,
  15.0, 16.0, 24.4, 22.6,
  16.4, 16.7, 19.6, 18.8,
  13.8, 14.3, 22.3, 21.5,
  15.9, 16.4, 27.1, 26.0,
  19.5, 19.2, 26.0, 23.5,
  15.6, 15.3, 24.0, 21.9,
  16.7, 16.9, 19.6, 18.8,
  14.6, 14.5, 25.2, 23.8,
  15.5, 15.8, 26.3, 24.3,
  15.9, 16.4];
const P46 = [30.5, 28.7,
  20.3, 21.2, 32.1, 26.4,
  21.1, 20.9, 24.6, 23.1,
  16.5, 16.9, 21.8, 19.9,
  13.8, 14.6, 21.8, 20.4,
  13.4, 14.1, 23.7, 23.2,
  14.6, 15.7, 23.6, 21.9,
  16.4, 16.6, 25.3, 23.8,
  16.0, 16.4, 27.8, 26.1,
  16.9, 17.2, 27.0, 25.3,
  16.8, 16.7, 27.4, 25.0,
  16.6, 16.7, 26.4, 24.0,
  16.9, 17.1, 24.8, 23.2,
  17.2, 17.4, 30.2, 29.4,
  17.9, 17.6, 30.6, 28.9,
  16.4, 16.9];
const P47 = [30.2, 28.5,
  19.8, 20.7, 31.7, 25.9,
  20.8, 20.6, 24.2, 22.8,
  16.4, 16.8, 21.6, 19.7,
  13.9, 14.7, 22.2, 20.7,
  13.8, 14.5, 24.8, 24.3,
  15.7, 16.8, 26.0, 24.1,
  17.2, 17.4, 25.8, 24.1,
  18.2, 18.5, 28.3, 26.9,
  18.9, 18.4, 26.2, 24.4,
  17.9, 17.6, 27.8, 25.3,
  18.6, 18.1, 26.2, 23.7,
  16.0, 16.2, 22.8, 21.4,
  15.8, 15.9, 22.6, 21.2,
  16.6, 16.8, 25.2, 23.1,
  17.6, 18.2];
const P48 = [30.0, 28.3,
  19.6, 20.6, 31.5, 25.7,
  20.7, 20.5, 24.3, 22.9,
  16.5, 16.9, 21.9, 20.0,
  14.0, 14.8, 21.8, 20.3,
  13.5, 14.2, 24.1, 23.6,
  14.3, 15.2, 22.9, 21.2,
  15.8, 16.1, 23.8, 22.4,
  14.6, 15.0, 19.2, 18.6,
  14.0, 14.4, 21.8, 20.9,
  16.5, 16.4, 25.6, 23.6,
  16.7, 16.7, 25.0, 22.8,
  15.2, 15.7, 28.3, 25.6,
  16.5, 16.6, 23.5, 22.1,
  17.5, 17.8, 20.6, 19.8,
  14.6, 15.3];
const P49 = [30.9, 29.2,
  20.5, 21.3, 32.4, 26.8,
  21.3, 21.1, 24.8, 23.3,
  16.8, 17.2, 22.4, 20.5,
  14.3, 15.1, 22.7, 21.2,
  14.0, 14.8, 24.5, 24.0,
  15.6, 16.6, 25.7, 23.9,
  17.1, 17.3, 24.9, 23.4,
  16.2, 16.6, 24.8, 23.9,
  16.7, 17.0, 26.2, 24.6,
  17.2, 17.0, 26.1, 24.1,
  16.8, 16.9, 25.5, 23.3,
  16.9, 17.1, 23.9, 22.3,
  16.6, 16.8, 23.6, 22.1,
  16.4, 16.6, 24.1, 22.2,
  16.2, 16.6];
const P50 = [29.6, 28.0,
  19.3, 20.3, 31.4, 25.5,
  20.6, 20.5, 24.1, 22.7,
  16.3, 16.8, 21.7, 19.8,
  13.6, 14.4, 21.6, 20.2,
  13.2, 13.9, 23.4, 23.0,
  14.9, 15.9, 24.4, 22.6,
  16.5, 16.7, 23.9, 22.5,
  12.4, 13.3, 23.1, 22.3,
  15.0, 15.4, 25.8, 24.3,
  15.3, 15.0, 21.9, 20.6,
  13.1, 13.5, 23.4, 21.6,
  17.6, 17.3, 24.5, 22.8,
  16.1, 16.3, 22.3, 21.0,
  15.9, 16.1, 22.9, 21.0,
  15.5, 16.0];

const members = [P01, P02, P03, P04, P05, P06, P07, P08, P09, P10,
  P11, P12, P13, P14, P15, P16, P17, P18, P19, P20,
  P21, P22, P23, P24, P25, P26, P27, P28, P29, P30,
  P31, P32, P33, P34, P35, P36, P37, P38, P39, P40,
  P41, P42, P43, P44, P45, P46, P47, P48, P49, P50];

// colour cycle used for the members (repeats every 20)
const palette = ["#1c2aa8", "#2552c8", "#2f72b8", "#3794c0", "#2aa8b0",
  "#22a07e", "#2ca05c", "#2aa046", "#22a436", "#1aac28",
  "#b8b448", "#cca832", "#c89a3a", "#c8842e", "#c86e28",
  "#b85e2a", "#b8542e", "#a84428", "#983222", "#86221a"];

const FONT = "'DejaVu Sans', sans-serif";
Chart.defaults.font.family = FONT;
Chart.defaults.color = "#ffffff";

const toPoints = (vals) => vals.map((v, i) => ({ x: hours[i], y: v }));

const datasets = members.map((vals, k) => ({
  label: "P" + String(k + 1).padStart(2, "0"),
  data: toPoints(vals),
  borderColor: palette[k % 20],
  borderWidth: 1.5,
  legendWidth: 2,
  order: 2,
}));
datasets.push({
  label: "AVG",
  data: toPoints(AVG),
  borderColor: "#ffffff",
  borderWidth: 5,
  legendWidth: 6,
  order: 0,
});
datasets.push({
  label: "OPER",
  data: toPoints(OPER),
  borderColor: "#14d814",
  borderWidth: 7,
  legendWidth: 6,
  order: 1,
});

//Frame round the plot area
const frame = {
  id: "frame",
  afterDatasetsDraw(chart) {
    const { ctx, chartArea: a } = chart;
    ctx.save();
    ctx.strokeStyle = "#cccccc";
    ctx.lineWidth = 4;
    ctx.strokeRect(a.left, a.top, a.right - a.left, a.bottom - a.top);
    ctx.restore();
  },
};

//Legend in a fixed 8 column grid + site name
const gridLegend = {
  id: "gridLegend",
  afterDraw(chart) {
    const ctx = chart.ctx;
    ctx.save();
    ctx.font = "bold 21px " + FONT;
    ctx.textBaseline = "middle";
    ctx.textAlign = "left";
    chart.data.datasets.forEach((ds, i) => {
      const col = i % 8;
      const row = Math.floor(i / 8);
      const x = 111 + col * 127.5 + (ds.label === "OPER" ? 9 : 0);
      const y = 966 + row * 30;
      const thick = ds.legendWidth > 3;
      ctx.strokeStyle = ds.borderColor;
      ctx.lineWidth = ds.legendWidth;
      ctx.lineCap = thick ? "round" : "butt";
      ctx.beginPath();
      ctx.moveTo(x + (thick ? 3 : 0), y);
      ctx.lineTo(x + 30 - (thick ? 3 : 0), y);
      ctx.stroke();
      ctx.fillStyle = "#ffffff";
      ctx.fillText(ds.label, x + 41, y + 1);
    });
    ctx.font = "32px " + FONT;
    ctx.textAlign = "right";
    ctx.fillText("wetterzentrale.de", 1179, 1178);
    ctx.restore();
  },
};

const ctx1 = document.getElementById("myChart").getContext("2d");
const myChart = new Chart(ctx1, {
  type: "line",
  data: { datasets: datasets },
  plugins: [frame, gridLegend],
  options: {
    responsive: false,
    animation: false,
    layout: { padding: { left: 20, right: 20, top: 0, bottom: 291 } },
    elements: {
      point: { radius: 0 },
      line: { tension: 0, borderCapStyle: "butt", borderJoinStyle: "miter" },
    },
    plugins: {
      legend: { display: false },
      tooltip: { enabled: false },
      title: {
        display: true,
        text: "AIFS De Bilt KNMI (NL) 52N, 5.25E",
        color: "#ffffff",
        font: { size: 34.6, weight: "normal" },
        padding: { top: 12.5, bottom: 0 },
      },
      subtitle: {
        display: true,
        text: "Init: Mon, 3 Aug 2026, 06Z",
        color: "#ffffff",
        font: { size: 23.6, weight: "normal" },
        padding: { top: 24.4, bottom: 35.3 },
      },
    },
    scales: {
      x: {
        type: "linear",
        min: -13,
        max: 348,
        afterBuildTicks: (scale) => {
          scale.ticks = tickHours.map((v) => ({ value: v }));
        },
        afterFit: (scale) => {
          scale.height = 86;
        },
        ticks: {
          autoSkip: false,
          maxRotation: 0,
          padding: 1,
          color: "#ffffff",
          font: { size: 20 },
          callback: (value, index) => tickLabels[index],
        },
        grid: {
          color: "#8c8c8c",
          lineWidth: 1.5,
          tickLength: 19,
          tickColor: "#d0d2dc",
          tickWidth: 2,
          tickBorderDash: [],
        },
        border: { display: false, dash: [7, 5] },
        title: {
          display: true,
          text: "Local time (UTC+2)",
          color: "#ffffff",
          font: { size: 22 },
          padding: { top: 4, bottom: 3 },
        },
      },
      y: {
        min: 5,
        max: 40,
        afterFit: (scale) => {
          scale.width = 115;
        },
        ticks: {
          stepSize: 5,
          padding: 32,
          color: "#ffffff",
          font: { size: 20 },
        },
        grid: {
          color: "#8c8c8c",
          lineWidth: 1.5,
          drawTicks: false,
        },
        border: { display: false, dash: [7, 5] },
        title: {
          display: true,
          text: "2m Temp. (°C)",
          color: "#ffffff",
          font: { size: 22 },
          padding: { top: 12, bottom: 0 },
        },
      },
    },
  },
});
</script>
</body>
</html>
